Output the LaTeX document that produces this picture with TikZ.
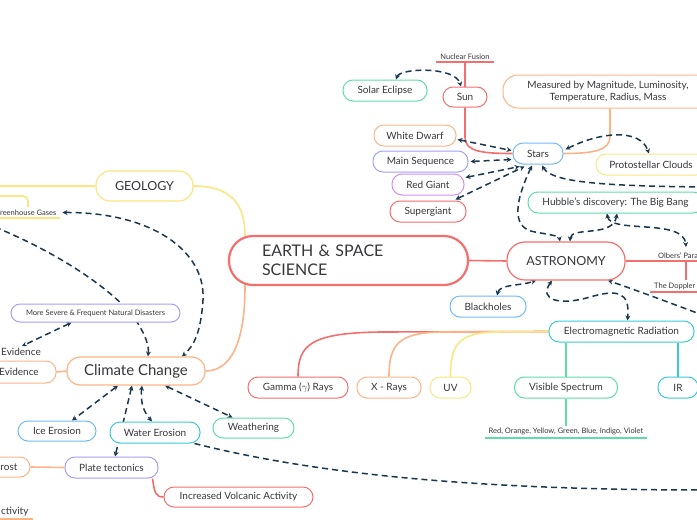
\documentclass[tikz,border=0pt]{standalone}
\usepackage{fontspec}
\setmainfont{Lato}
\usepackage{tikz}
\usetikzlibrary{arrows.meta, positioning, calc, backgrounds}
\definecolor{inkgray}{RGB}{55,55,60}
\definecolor{linknavy}{RGB}{25,55,78}
\definecolor{mmred}{RGB}{245,110,110}
\definecolor{mmorange}{RGB}{252,180,135}
\definecolor{mmyellow}{RGB}{250,230,130}
\definecolor{mmgreen}{RGB}{95,220,170}
\definecolor{mmblue}{RGB}{115,185,245}
\definecolor{mmpurple}{RGB}{165,160,245}
\definecolor{mmviolet}{RGB}{205,145,240}
\definecolor{mmcyan}{RGB}{60,200,215}
\tikzset{
  topic/.style={rectangle, draw, fill=white, rounded corners=10pt,
    line width=1pt, inner sep=0pt, minimum height=21pt, align=center,
    text=inkgray, font=\fontsize{10}{12}\selectfont},
  bigtopic/.style={topic, rounded corners=15pt, line width=1.2pt,
    font=\fontsize{12.5}{14}\selectfont},
  leaf/.style={inner xsep=4pt, inner ysep=2.5pt, text=inkgray,
    font=\fontsize{7.5}{9}\selectfont},
  branch/.style={line width=1.6pt},
  link/.style={<->, color=linknavy, line width=1.5pt, dash pattern=on 6pt off 4pt}
}

\begin{document}
\begin{tikzpicture}[x=1pt, y=-1pt, >={Stealth[length=5pt,width=5pt]}]
  \useasboundingbox (0,0) rectangle (697,520);

  % Main topics
  \node[topic, draw=mmred, line width=2.2pt, rounded corners=24pt,
    minimum width=239pt, minimum height=49pt, text width=173pt,
    inner xsep=33pt, align=left, font=\fontsize{16}{19}\selectfont]
    (space) at (348.5,260.5) {EARTH \& SPACE\\SCIENCE};
  \node[bigtopic, draw=mmred, minimum width=118pt, minimum height=38pt, rounded corners=18pt] (astro) at (566,261) {ASTRONOMY};
  \node[bigtopic, draw=mmyellow, minimum width=97pt, minimum height=30pt, rounded corners=14pt] (geo) at (144.5,186) {GEOLOGY};
  \node[bigtopic, draw=mmorange, minimum width=138pt, minimum height=28pt, rounded corners=13pt,
    font=\fontsize{15}{17}\selectfont] (climate) at (136,371) {Climate Change};

  % Astronomy side
  \node[topic, draw=mmblue, minimum width=50pt] (stars) at (538,153.5) {Stars};
  \node[topic, draw=mmred, minimum width=44pt, minimum height=20pt] (sun) at (465,97) {Sun};
  \node[leaf, anchor=south] (fusion) at (465,62) {Nuclear Fusion};
  \node[topic, draw=mmgreen, minimum width=84pt] (eclipse) at (385,90.5) {Solar Eclipse};
  \node[topic, draw=mmorange, minimum width=210pt, minimum height=33pt, rounded corners=15pt]
    (measured) at (608,91.5) {Measured by Magnitude, Luminosity,\\Temperature, Radius, Mass};
  \node[topic, draw=mmorange, minimum width=82pt] (dwarf) at (415,135.5) {White Dwarf};
  \node[topic, draw=mmpurple, minimum width=95pt] (mainseq) at (420.5,161.5) {Main Sequence};
  \node[topic, draw=mmviolet, minimum width=72pt] (giant) at (428,184.5) {Red Giant};
  \node[topic, draw=mmred, minimum width=76pt] (supergiant) at (428,211.5) {Supergiant};
  \node[topic, draw=mmyellow, minimum width=110pt] (proto) at (651,164.5) {Protostellar Clouds};
  \node[topic, draw=mmgreen, minimum width=175pt] (hubble) at (615.5,202.5) {Hubble’s discovery: The Big Bang};
  \node[leaf, anchor=south west] (olbers) at (654,261) {Olbers’ Para};
  \node[leaf, anchor=south west] (doppler) at (650,292) {The Doppler};
  \node[topic, draw=mmblue, minimum width=76pt] (blackholes) at (488,306.5) {Blackholes};
  \node[topic, draw=mmcyan, minimum width=145pt] (emrad) at (621.5,331.5) {Electromagnetic Radiation};
  \node[topic, draw=mmred, minimum width=100pt] (gamma) at (298,387.5) {Gamma ($\gamma$) Rays};
  \node[topic, draw=mmorange, minimum width=64pt] (xrays) at (389,387.5) {X - Rays};
  \node[topic, draw=mmyellow, minimum width=41pt] (uv) at (450.5,387.5) {UV};
  \node[topic, draw=mmgreen, minimum width=103pt] (visible) at (566,387.5) {Visible Spectrum};
  \node[topic, draw=mmcyan, minimum width=40pt] (ir) at (678,387.5) {IR};
  \node[leaf, anchor=south] (colours) at (566,438) {Red, Orange, Yellow, Green, Blue, Indigo, Violet};

  % Geology and climate side
  \node[leaf, anchor=south west] (ghg) at (-4,218) {reenhouse Gases};
  \node[topic, draw=mmpurple, minimum width=169pt, minimum height=18pt, rounded corners=9pt,
    font=\fontsize{7.5}{9}\selectfont] (disasters) at (95.5,313) {More Severe \& Frequent Natural Disasters};
  \node[leaf, inner sep=0pt, font=\fontsize{10}{12}\selectfont] (evid1) at (21,352) {Evidence};
  \node[topic, draw=mmorange, minimum width=80pt, minimum height=22pt] (evid2) at (16,372) {\hspace*{6pt}Evidence};
  \node[topic, draw=mmblue, minimum width=78pt, minimum height=20pt] (ice) at (57,431) {Ice Erosion};
  \node[topic, draw=mmcyan, minimum width=90pt] (water) at (155,432.5) {Water Erosion};
  \node[topic, draw=mmgreen, minimum width=81pt, minimum height=20pt] (weather) at (253.5,428) {Weathering};
  \node[topic, draw=mmpurple, minimum width=93pt] (plates) at (111.5,467.5) {Plate tectonics};
  \node[topic, draw=mmorange, minimum width=42pt, minimum height=20pt] (frost) at (9,467) {rost};
  \node[topic, draw=mmred, minimum width=149pt, minimum height=20pt] (volcanic) at (238.5,497) {Increased Volcanic Activity};
  \node[leaf, anchor=south west, font=\fontsize{10}{12}\selectfont] (activity) at (-3,519) {ctivity};

  \begin{scope}[on background layer]
    % Branches
    \draw[branch, mmred] (space.east) -- (astro.west);
    \draw[branch, mmyellow] (geo.east) .. controls (238,186) and (246,212) .. ($(space.north west)+(17,5)$);
    \draw[branch, mmorange] (climate.east) .. controls (236,371) and (246,330) .. ($(space.south west)+(17,-5)$);
    \draw[branch, mmyellow] (geo.west) -- (-5,186);
    \draw[branch, mmyellow, rounded corners=5pt] (-5,196) -| ([xshift=32pt]ghg.north west);
    \draw[branch, mmyellow] (ghg.south west) -- (ghg.south east);
    \draw[branch, mmred] (fusion.south west) -- (fusion.south east);
    \draw[branch, mmred] (fusion.south) -- (sun.north);
    \draw[branch, mmred] (sun.south) -- ++(0,30) .. controls +(0,14) and +(-30,0) .. (stars.west);
    \draw[branch, mmorange] ($(measured.south)+(2,0)$) -- ++(0,28) .. controls +(0,14) and +(30,0) .. (stars.east);
    \draw[branch, mmred] (astro.east) -- ($(olbers.south west)+(60,0)$);
    \draw[branch, mmred] ($(olbers.south west)+(32,0)$) -- ($(doppler.north west)+(36,0)$);
    \draw[branch, mmred] (doppler.south west) -- ++(60,0);
    \draw[branch, mmred] (emrad.west) -- (380,332) .. controls (310,333) and (298,345) .. (gamma.north);
    \draw[branch, mmorange] (emrad.west) -- (440,332) .. controls (398,333) and (389,345) .. (xrays.north);
    \draw[branch, mmyellow] (emrad.west) -- (495,332) .. controls (458,333) and (450.5,345) .. (uv.north);
    \draw[branch, mmgreen] (visible.north) -- (visible.north |- emrad.south);
    \draw[branch, mmcyan] (ir.north) -- (ir.north |- emrad.south);
    \draw[branch, mmgreen] (visible.south) -- (colours.north);
    \draw[branch, mmgreen] (colours.south west) -- (colours.south east);
    \draw[branch, mmorange] (evid2.east) -- (climate.west);
    \draw[branch, mmorange] (frost.east) -- (plates.west);
    \draw[branch, mmred] ($(plates.south east)+(-6,0)$) .. controls +(2,14) and +(-8,0) .. (volcanic.west);
    \draw[branch, mmorange] (activity.south west) -- (activity.south east);

    % Cross links, astronomy
    \draw[link] ($(eclipse.north)+(11,0)$) .. controls (400,68) and (455,66) .. ($(sun.north)+(-4,0)$);
    \draw[link] ($(dwarf.east)+(1,4)$) -- ($(stars.west)+(-1,-3)$);
    \draw[link] ($(mainseq.east)+(2,0)$) -- ($(stars.west)+(-1,6)$);
    \draw[link] ($(giant.east)+(1,-7)$) -- ($(stars.south west)+(7,2)$);
    \draw[link] ($(supergiant.north east)+(-11,-1)$) -- ($(stars.south west)+(12,2)$);
    \draw[link] ($(stars.east)+(2,-4)$) .. controls (600,132) and (640,128) .. ($(proto.north)+(-2,0)$);
    \draw[link] ($(stars.south)+(-6,1)$) .. controls (518,195) and (508,228) .. (535,232)
      .. controls (552,235) and (559,236) .. ($(astro.north)+(-6,0)$);
    \draw[link, ->] (705,187) .. controls (600,186) and (552,182) .. ($(stars.south)+(4,1)$);
    \draw[link] ($(astro.north)+(4,0)$) .. controls (571,226) and (613,238) .. ($(hubble.south)+(1.5,0)$);
    \draw[link] ($(hubble.south)+(-8.5,0)$) .. controls (610,234) and (684,218) .. ($(olbers.south west)+(32,-14)$);
    \draw[link] ($(blackholes.north)+(9,0)$) .. controls (500,284) and (520,286) .. ($(astro.south)+(-30,0)$);
    \draw[link] ($(astro.south)+(-14,0)$) .. controls (538,300) and (560,306) .. (590,297)
      .. controls (618,289) and (630,292) .. ($(emrad.north)+(6,0)$);
    \draw[link, ->] (705,316) .. controls (668,302) and (630,288) .. ($(astro.south)+(42,0)$);
    \draw[link, -] ($(water.south east)+(-6,0)$) .. controls (300,470) and (450,490) .. (705,490);

    % Cross links, climate
    \draw[link] ($(ghg.east)+(2,0)$) .. controls (150,212) and (206,250) .. (203,300)
      .. controls (201,330) and (195,345) .. ($(climate.north)+(46,0)$);
    \draw[link, ->] (-5,227) .. controls (70,258) and (122,298) .. (137,322)
      .. controls (146,336) and (149,346) .. ($(climate.north)+(12,0)$);
    \draw[link] ($(disasters.south west)+(61,0)$) -- ($(evid1.north)+(1,-2)$);
    \draw[link] ($(climate.south)+(-18,0)$) -- ($(ice.north)+(15,0)$);
    \draw[link] ($(climate.south)+(-4,0)$) -- ($(plates.north)+(3.5,0)$);
    \draw[link] ($(climate.south)+(6,0)$) .. controls (140,405) and (145,413) .. ($(water.north)+(-3,0)$);
    \draw[link] ($(climate.south)+(29,0)$) -- ($(weather.north)+(-21,0)$);
  \end{scope}
\end{tikzpicture}
\end{document}
